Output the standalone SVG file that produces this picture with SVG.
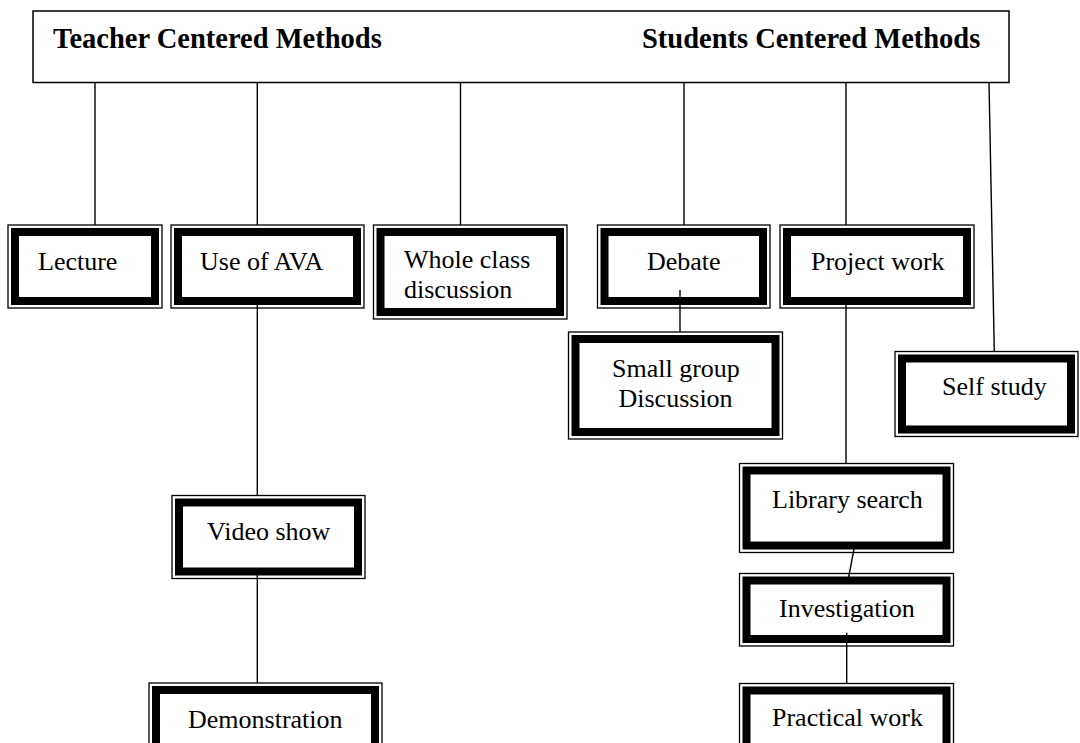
<svg xmlns="http://www.w3.org/2000/svg" width="1080" height="743" viewBox="0 0 1080 743">
<style>
.hdr{fill:#fff;stroke:#000;stroke-width:1.5}
.ht{font-family:"Liberation Serif","Times New Roman",serif;font-weight:bold;font-size:28.5px;fill:#000}
.o{fill:#fff;stroke:#000;stroke-width:1.3}
.i{fill:#fff;stroke:#000;stroke-width:8}
.t{font-family:"Liberation Serif","Times New Roman",serif;font-size:26px;fill:#000}
.c line{stroke:#000;stroke-width:1.4}
</style>
<rect width="1080" height="743" fill="#fff"/>
<g id="header">
<rect class="hdr" x="33" y="11" width="976" height="71.5"/>
<text class="ht" x="53" y="48">Teacher Centered Methods</text>
<text class="ht" x="642" y="48">Students Centered Methods</text>
</g>
<g id="lecture"><rect class="o" x="8" y="225" width="154" height="83"/><rect class="i" x="15" y="232" width="140" height="69"/><text class="t" x="38" y="270">Lecture</text></g>
<g id="ava"><rect class="o" x="171" y="225" width="193" height="83"/><rect class="i" x="178" y="232" width="179" height="69"/><text class="t" x="200" y="270">Use of AVA</text></g>
<g id="whole"><rect class="o" x="373.5" y="225" width="193.5" height="94"/><rect class="i" x="380.5" y="232" width="179.5" height="80"/><text class="t" x="404" y="268">Whole class</text><text class="t" x="404" y="298">discussion</text></g>
<g id="debate"><rect class="o" x="597.5" y="225" width="172.5" height="83"/><rect class="i" x="604.5" y="232" width="158.5" height="69"/><text class="t" x="647" y="270">Debate</text></g>
<g id="project"><rect class="o" x="780" y="225" width="194" height="83"/><rect class="i" x="787" y="232" width="180" height="69"/><text class="t" x="811" y="270">Project work</text></g>
<g id="smallgroup"><rect class="o" x="568.5" y="332" width="214" height="107"/><rect class="i" x="575.5" y="339" width="200" height="93"/><text class="t" x="612" y="377">Small group</text><text class="t" x="618.5" y="407">Discussion</text></g>
<g id="selfstudy"><rect class="o" x="895" y="351.5" width="183" height="85"/><rect class="i" x="902" y="358.5" width="169" height="71"/><text class="t" x="942" y="395">Self study</text></g>
<g id="video"><rect class="o" x="172" y="495.5" width="193" height="83"/><rect class="i" x="179" y="502.5" width="179" height="69"/><text class="t" x="207" y="540">Video show</text></g>
<g id="demo"><rect class="o" x="149" y="683" width="233" height="83"/><rect class="i" x="156" y="690" width="219" height="69"/><text class="t" x="188" y="728">Demonstration</text></g>
<g id="library"><rect class="o" x="739.5" y="463.5" width="214" height="89"/><rect class="i" x="746.5" y="470.5" width="200" height="75"/><text class="t" x="772" y="508">Library search</text></g>
<g id="investigation"><rect class="o" x="739.5" y="573.5" width="214" height="72.5"/><rect class="i" x="746.5" y="580.5" width="200" height="58.5"/><text class="t" x="779" y="617">Investigation</text></g>
<g id="practical"><rect class="o" x="739.5" y="683.5" width="214" height="83"/><rect class="i" x="746.5" y="690.5" width="200" height="69"/><text class="t" x="772" y="726">Practical work</text></g>
<g id="connectors" class="c">
<line x1="95" y1="82.5" x2="95" y2="225"/>
<line x1="257.3" y1="82.5" x2="257.3" y2="225"/>
<line x1="460.5" y1="82.5" x2="460.5" y2="225"/>
<line x1="684" y1="82.5" x2="684" y2="225"/>
<line x1="846" y1="82.5" x2="846" y2="225"/>
<line x1="989" y1="82.5" x2="994.3" y2="351.5"/>
<line x1="257.3" y1="305" x2="257.3" y2="495.5"/>
<line x1="257.3" y1="575" x2="257.3" y2="683"/>
<line x1="680" y1="290" x2="680" y2="332"/>
<line x1="846" y1="305" x2="846" y2="463.5"/>
<line x1="854" y1="549" x2="848.7" y2="577"/>
<line x1="846.7" y1="632.7" x2="846.7" y2="683.5"/>
</g>
</svg>
